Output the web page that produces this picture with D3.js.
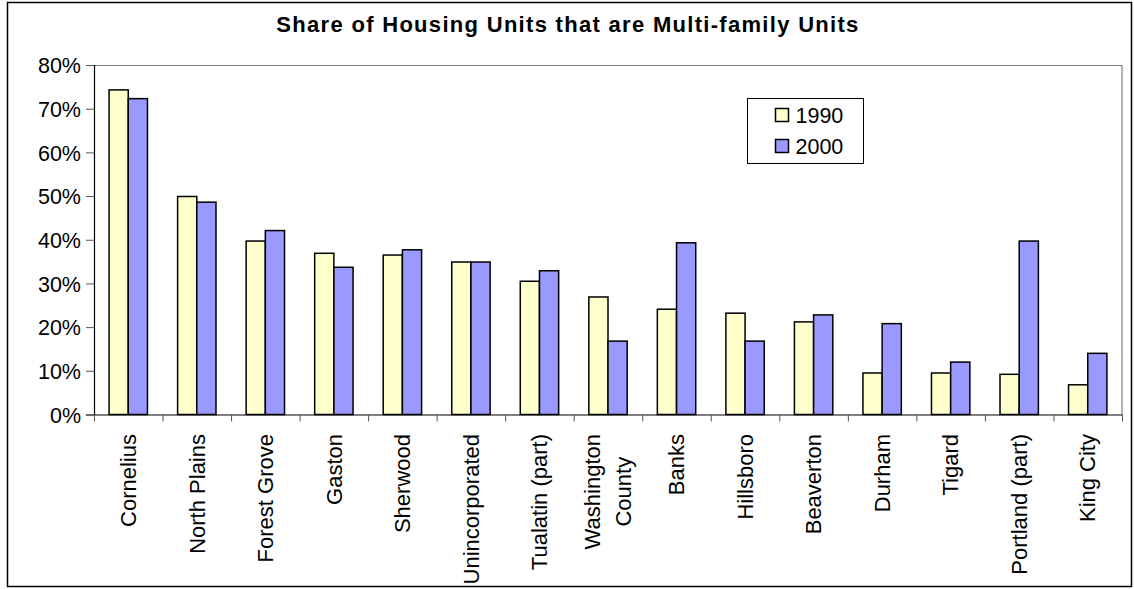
<!DOCTYPE html>
<html>
<head>
<meta charset="utf-8">
<script src="https://cdn.jsdelivr.net/npm/d3@7"></script>
<style>
  body { margin: 0; background: #fff; }
  text { font-family: "Liberation Sans", Arial, sans-serif; }
</style>
</head>
<body>
<div id="chart"></div>
<script>
// Chart size
let svgWidth = 1134;
let svgHeight = 589;

// Plot area inside the frame
let margin = { top: 65, right: 12, bottom: 175, left: 94 };
let width = 1122 - margin.left;
let height = 414.5 - margin.top;

// Data
let places = ["Cornelius", "North Plains", "Forest Grove", "Gaston", "Sherwood",
  "Unincorporated", "Tualatin (part)", "Washington County", "Banks", "Hillsboro",
  "Beaverton", "Durham", "Tigard", "Portland (part)", "King City"];
let share1990 = [0.743, 0.499, 0.397, 0.369, 0.365, 0.349, 0.305, 0.269, 0.241, 0.232,
  0.212, 0.095, 0.095, 0.092, 0.068];
let share2000 = [0.723, 0.486, 0.421, 0.337, 0.377, 0.349, 0.329, 0.168, 0.393, 0.168,
  0.228, 0.208, 0.120, 0.397, 0.140];
let years = ["1990", "2000"];
let yTicks = [0, 0.1, 0.2, 0.3, 0.4, 0.5, 0.6, 0.7, 0.8];

let colors = { "1990": "#FFFFCC", "2000": "#9999FF" };

let svg = d3.select("#chart")
  .append("svg")
  .attr("width", svgWidth)
  .attr("height", svgHeight);

// outer frame
svg.append("rect")
  .attr("x", 7.5).attr("y", 2.5)
  .attr("width", 1124).attr("height", 584)
  .attr("fill", "white")
  .attr("stroke", "#000")
  .attr("stroke-width", 1.5);

// title
svg.append("text")
  .attr("x", 568)
  .attr("y", 32)
  .attr("text-anchor", "middle")
  .style("font-size", "22px")
  .style("font-weight", "bold")
  .style("letter-spacing", "1.3px")
  .text("Share of Housing Units that are Multi-family Units");

let chartGroup = svg.append("g")
  .attr("transform", `translate(${margin.left}, ${margin.top})`);

// scales
let x0 = d3.scaleBand()
  .domain(places)
  .range([0, width])
  .paddingInner(0.44)
  .paddingOuter(0.22);

let x1 = d3.scaleBand()
  .domain(years)
  .range([0, x0.bandwidth()]);

let tickScale = d3.scaleLinear()
  .domain([0, places.length])
  .range([0, width]);

let yScale = d3.scaleLinear()
  .domain([0, 0.8])
  .range([height, 0]);

// plot area border (top and right)
chartGroup.append("path")
  .attr("d", `M0,0.5H${width}V${height}`)
  .attr("fill", "none")
  .attr("stroke", "#808080")
  .attr("stroke-width", 1.2);

// bars
let rows = places.map((p, i) => ({ place: p, values: [
  { year: "1990", value: share1990[i] },
  { year: "2000", value: share2000[i] }
]}));

chartGroup.selectAll(".group")
  .data(rows)
  .enter()
  .append("g")
  .attr("class", "group")
  .attr("transform", d => `translate(${x0(d.place)}, 0)`)
  .selectAll("rect")
  .data(d => d.values)
  .enter()
  .append("rect")
  .attr("x", d => x1(d.year))
  .attr("y", d => yScale(d.value))
  .attr("width", x1.bandwidth())
  .attr("height", d => height - yScale(d.value))
  .attr("fill", d => colors[d.year])
  .attr("stroke", "#000")
  .attr("stroke-width", 1.5);

// y axis
let leftAxis = d3.axisLeft(yScale)
  .tickValues(yTicks)
  .tickSize(8)
  .tickFormat(d3.format(".0%"));

let yAxis = chartGroup.append("g").call(leftAxis);
yAxis.selectAll("text")
  .style("font-size", "21.5px")
  .style("font-family", "'Liberation Sans', Arial, sans-serif")
  .attr("fill", "#000")
  .attr("x", -13)
  .attr("dy", "0.36em");
yAxis.selectAll("line").attr("stroke", "#555");
yAxis.select(".domain").attr("stroke", "#000").attr("stroke-width", 1.2);

// x axis (ticks between categories)
let bottomAxis = d3.axisBottom(tickScale)
  .tickValues(d3.range(places.length + 1))
  .tickSize(7)
  .tickSizeOuter(0)
  .tickFormat("");

let xAxis = chartGroup.append("g")
  .attr("transform", `translate(0, ${height})`)
  .call(bottomAxis);
xAxis.selectAll("line").attr("stroke", "#555");
xAxis.select(".domain").attr("stroke", "#000").attr("stroke-width", 1.2);

// category labels, rotated
let labelTop = 434 - margin.top;
places.forEach(function(p) {
  let cx = x0(p) + x0.bandwidth() / 2;
  let lines = p === "Washington County" ? ["Washington", "County"] : [p];
  let label = chartGroup.append("text")
    .attr("transform", `translate(${cx}, ${labelTop}) rotate(-90)`)
    .style("font-size", "22px");
  if (lines.length === 1) {
    label.attr("text-anchor", "end")
      .attr("dy", "0.35em")
      .text(p);
  } else {
    label.attr("text-anchor", "middle");
    let spans = lines.map((l, i) => label.append("tspan")
      .attr("x", 0)
      .attr("y", (i - (lines.length - 1) / 2) * 31)
      .attr("dy", "0.35em")
      .text(l));
    let longest = d3.max(spans, s => s.node().getComputedTextLength());
    spans.forEach(s => s.attr("x", -longest / 2));
  }
});

// legend
let legend = svg.append("g").attr("transform", "translate(747.5, 98.5)");
legend.append("rect")
  .attr("width", 116).attr("height", 65)
  .attr("fill", "white")
  .attr("stroke", "#000")
  .attr("stroke-width", 1);

years.forEach(function(yr, i) {
  legend.append("rect")
    .attr("x", 28).attr("y", 10 + i * 31)
    .attr("width", 13).attr("height", 13)
    .attr("fill", colors[yr])
    .attr("stroke", "#000")
    .attr("stroke-width", 1.5);
  legend.append("text")
    .attr("x", 48).attr("y", 16.5 + i * 31)
    .attr("dy", "0.35em")
    .style("font-size", "21.5px")
    .text(yr);
});
</script>
</body>
</html>
